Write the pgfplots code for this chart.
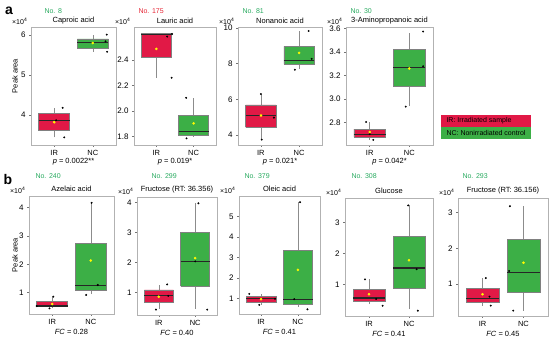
\documentclass[border=0pt]{standalone}
\usepackage{fontspec}
\setmainfont{Liberation Sans}
\usepackage{pgfplots}
\pgfplotsset{compat=1.18}
\definecolor{irred}{RGB}{225,25,70}
\definecolor{ncgreen}{RGB}{60,175,70}
\definecolor{notxtg}{RGB}{40,170,95}
\definecolor{notxtr}{RGB}{230,40,55}
\definecolor{meany}{RGB}{255,250,0}
\tikzset{
 ttlt/.style={font=\fontsize{7.5}{8}\selectfont, yshift=6.5pt},
 ttlb/.style={font=\fontsize{7.5}{8}\selectfont, yshift=7pt},
 sc/.style={anchor=south east, font=\fontsize{7}{8}\selectfont, xshift=-2.5pt, yshift=1.5pt, inner sep=1pt},
 labt/.style={font=\fontsize{7.5}{8}\selectfont, yshift=-16.7pt},
 labb/.style={font=\fontsize{7.5}{8}\selectfont, yshift=-17.7pt},
 nog/.style={anchor=west, text=notxtg, font=\fontsize{7}{8}\selectfont},
 nor/.style={anchor=west, text=notxtr, font=\fontsize{7}{8}\selectfont},
}
\pgfplotsset{
 pan/.style={scale only axis, anchor=south west, height=118pt, xmin=0.4, xmax=2.6,
  xtick={1,2}, xticklabels={IR,NC},
  axis line style={draw=black!30, line width=0.9pt},
  every tick/.style={draw=black!55, line width=0.5pt},
  tick align=outside, major tick length=2pt, xtick pos=left, ytick pos=left,
  tick label style={font=\fontsize{8}{9}\selectfont},
  xticklabel style={font=\fontsize{7.5}{8}\selectfont},
  /pgf/number format/assume math mode=true, clip=false},
 dec1/.style={yticklabel style={/pgf/number format/.cd, fixed, fixed zerofill, precision=1}},
 whk/.style={draw=black!45, line width=0.6pt, mark=none},
 bxs/.style={draw=black!50, line width=0.5pt, mark=none},
 med/.style={draw=black!85, line width=1.2pt, mark=none},
 pts/.style={only marks, mark=*, mark size=0.75pt, black},
 mn/.style={only marks, mark=*, mark size=1.1pt, color=meany},
}
% #1 lower whisker, #2 q1, #3 median, #4 q3, #5 upper whisker
\newcommand{\irb}[5]{%
 \addplot[whk] coordinates {(1,#1) (1,#2)};
 \addplot[whk] coordinates {(1,#4) (1,#5)};
 \addplot[bxs, fill=irred] coordinates {(0.6,#2) (1.4,#2) (1.4,#4) (0.6,#4) (0.6,#2)};
 \addplot[med] coordinates {(0.6,#3) (1.4,#3)};
}
\newcommand{\ncb}[5]{%
 \addplot[whk] coordinates {(2,#1) (2,#2)};
 \addplot[whk] coordinates {(2,#4) (2,#5)};
 \addplot[bxs, fill=ncgreen] coordinates {(1.6,#2) (2.4,#2) (2.4,#4) (1.6,#4) (1.6,#2)};
 \addplot[med] coordinates {(1.6,#3) (2.4,#3)};
}
\begin{document}
\begin{tikzpicture}
\path[use as bounding box] (0,0) rectangle (550pt,342pt);
% panel labels
\node[inner sep=0pt, font=\bfseries\fontsize{14}{14}\selectfont] at (9pt,331pt) {a};
\node[inner sep=0pt, font=\bfseries\fontsize{14}{14}\selectfont] at (8pt,162pt) {b};
\node[rotate=90, font=\fontsize{7.5}{8}\selectfont] at (15pt,266pt) {Peak area};
\node[rotate=90, font=\fontsize{7.5}{8}\selectfont] at (15pt,87pt) {Peak area};
% No. labels
\node[nog] at (41pt,331pt) {No. 8};
\node[nor] at (135pt,331pt) {No. 175};
\node[nog] at (239pt,331pt) {No. 81};
\node[nog] at (347pt,331pt) {No. 30};
\node[nog] at (32pt,166pt) {No. 240};
\node[nog] at (148pt,166pt) {No. 299};
\node[nog] at (241pt,166pt) {No. 379};
\node[nog] at (348pt,166pt) {No. 308};
\node[nog] at (459pt,166pt) {No. 293};
% legend
\fill[irred] (441pt,215pt) rectangle (531pt,227pt);
\fill[ncgreen] (441pt,203pt) rectangle (531pt,214.5pt);
\node[anchor=west, font=\fontsize{7}{8}\selectfont] at (443pt,221pt) {IR: Irradiated sample};
\node[anchor=west, font=\fontsize{7}{8}\selectfont] at (443pt,208.7pt) {NC: Nonirradiated control};

% ---------- top row ----------
\begin{axis}[pan, at={(31pt,197pt)}, width=85pt, ymin=3.25, ymax=6.2, ytick={4,5,6}]
\irb{3.44}{3.61}{3.87}{4.04}{4.18}
\ncb{5.58}{5.68}{5.81}{5.90}{6.01}
\addplot[pts] coordinates {(1.22,4.18) (1.26,3.44) (1.05,3.87) (2.36,6.01) (2.33,5.84) (2.37,5.58)};
\addplot[mn] coordinates {(1,3.82) (2,5.8)};
\node[ttlt] at (rel axis cs:0.5,1) {Caproic acid};
\node[sc] at (rel axis cs:0,1) {×10\textsuperscript{4}};
\node[labt] at (rel axis cs:0.5,0) {\textit{p} = 0.0022**};
\end{axis}

\begin{axis}[pan, dec1, at={(134pt,197pt)}, width=82pt, ymin=1.735, ymax=2.66, ytick={1.8,2.0,2.2,2.4}]
\irb{2.262}{2.426}{2.601}{2.609}{2.609}
\ncb{1.80}{1.808}{1.839}{1.970}{2.10}
\addplot[pts] coordinates {(1.29,2.585) (1.42,2.605) (1.41,2.262) (1.8,2.105) (1.81,1.787)};
\addplot[mn] coordinates {(1,2.488) (2,1.905)};
\node[ttlt] at (rel axis cs:0.5,1) {Lauric acid};
\node[sc] at (rel axis cs:0,1) {×10\textsuperscript{4}};
\node[labt] at (rel axis cs:0.5,0) {\textit{p} = 0.019*};
\end{axis}

\begin{axis}[pan, at={(238pt,197pt)}, width=84pt, ymin=3.45, ymax=10.05, ytick={4,6,8,10}]
\irb{3.78}{4.44}{5.08}{5.70}{6.3}
\ncb{7.7}{7.97}{8.17}{8.96}{9.8}
\addplot[pts] coordinates {(1.0,6.3) (1.34,4.98) (1.02,3.75) (2.25,9.83) (2.33,8.27) (1.89,7.66)};
\addplot[mn] coordinates {(1,5.1) (2,8.6)};
\node[ttlt] at (rel axis cs:0.5,1) {Nonanoic acid};
\node[sc] at (rel axis cs:0,1) {×10\textsuperscript{4}};
\node[labt] at (rel axis cs:0.5,0) {\textit{p} = 0.021*};
\end{axis}

\begin{axis}[pan, dec1, at={(346pt,197pt)}, width=87pt, ymin=2.61, ymax=3.614, ytick={2.8,3.0,3.2,3.4,3.6}]
\irb{2.655}{2.679}{2.702}{2.744}{2.806}
\ncb{2.942}{3.106}{3.272}{3.422}{3.564}
\addplot[pts] coordinates {(0.91,2.806) (1.09,2.654) (1.0,2.702) (2.35,3.575) (2.35,3.28) (1.91,2.936)};
\addplot[mn] coordinates {(1,2.721) (2,3.261)};
\node[ttlt] at (rel axis cs:0.5,1) {3-Aminopropanoic acid};
\node[sc] at (rel axis cs:0,1) {×10\textsuperscript{4}};
\node[labt] at (rel axis cs:0.5,0) {\textit{p} = 0.042*};
\end{axis}

% ---------- bottom row ----------
\begin{axis}[pan, at={(29pt,28pt)}, width=85pt, ymin=0.25, ymax=4.40, ytick={1,2,3,4}]
\irb{0.45}{0.51}{0.53}{0.685}{0.86}
\ncb{0.95}{1.10}{1.26}{2.74}{4.16}
\addplot[pts] coordinates {(1.03,0.86) (0.93,0.45) (0.6,0.53) (2.02,4.16) (2.18,1.27) (1.88,0.92)};
\addplot[mn] coordinates {(1,0.60) (2,2.13)};
\node[ttlb] at (rel axis cs:0.5,1) {Azelaic acid};
\node[sc] at (rel axis cs:0,1) {×10\textsuperscript{4}};
\node[labb] at (rel axis cs:0.5,0) {\textit{FC} = 0.28};
\end{axis}

\begin{axis}[pan, at={(137pt,27pt)}, width=80pt, ymin=0.25, ymax=4.19, ytick={1,2,3,4}]
\irb{0.46}{0.66}{0.89}{1.09}{1.26}
\ncb{0.46}{1.21}{2.04}{3.0}{3.98}
\addplot[pts] coordinates {(1.23,1.27) (1.26,0.89) (0.92,0.43) (2.09,3.98) (2.33,0.43) (2.0,2.04)};
\addplot[mn] coordinates {(1,0.86) (2,2.15)};
\node[ttlb] at (rel axis cs:0.5,1) {Fructose (RT: 36.356)};
\node[sc] at (rel axis cs:0,1) {×10\textsuperscript{4}};
\node[labb] at (rel axis cs:0.5,0) {\textit{FC} = 0.40};
\end{axis}

\begin{axis}[pan, at={(239pt,28pt)}, width=81pt, ymin=0.25, ymax=6.0, ytick={1,2,3,4,5}]
\irb{0.69}{0.82}{0.99}{1.10}{1.23}
\ncb{0.61}{0.73}{0.97}{3.34}{5.70}
\addplot[pts] coordinates {(0.68,1.23) (0.95,0.69) (1.38,0.99) (2.06,5.70) (2.26,0.48) (1.9,0.97)};
\addplot[mn] coordinates {(1,0.97) (2,2.40)};
\node[ttlb] at (rel axis cs:0.5,1) {Oleic acid};
\node[sc] at (rel axis cs:0,1) {×10\textsuperscript{4}};
\node[labb] at (rel axis cs:0.5,0) {\textit{FC} = 0.41};
\end{axis}

\begin{axis}[pan, at={(345pt,26pt)}, width=88pt, ymin=-0.02, ymax=3.79, ytick={1,2,3}]
\irb{0.36}{0.44}{0.56}{0.85}{1.16}
\ncb{0.20}{0.86}{1.53}{2.56}{3.55}
\addplot[pts] coordinates {(0.9,1.16) (1.18,0.53) (1.34,0.31) (1.98,3.55) (2.19,1.49) (2.22,0.15)};
\addplot[mn] coordinates {(1,0.68) (2,1.78)};
\node[ttlb] at (rel axis cs:0.5,1) {Glucose};
\node[sc] at (rel axis cs:0,1) {×10\textsuperscript{4}};
\node[labb] at (rel axis cs:0.5,0) {\textit{FC} = 0.41};
\end{axis}

\begin{axis}[pan, at={(458pt,26pt)}, width=90pt, ymin=0.11, ymax=3.41, ytick={1,2,3}]
\irb{0.40}{0.49}{0.61}{0.89}{1.17}
\ncb{0.26}{0.77}{1.33}{2.26}{3.18}
\addplot[pts] coordinates {(1.08,1.17) (1.17,0.65) (1.2,0.40) (1.67,3.18) (1.65,1.37) (1.75,0.26)};
\addplot[mn] coordinates {(1,0.72) (2,1.60)};
\node[ttlb] at (rel axis cs:0.5,1) {Fructose (RT: 36.156)};
\node[sc] at (rel axis cs:0,1) {×10\textsuperscript{4}};
\node[labb] at (rel axis cs:0.5,0) {\textit{FC} = 0.45};
\end{axis}
\end{tikzpicture}
\end{document}
